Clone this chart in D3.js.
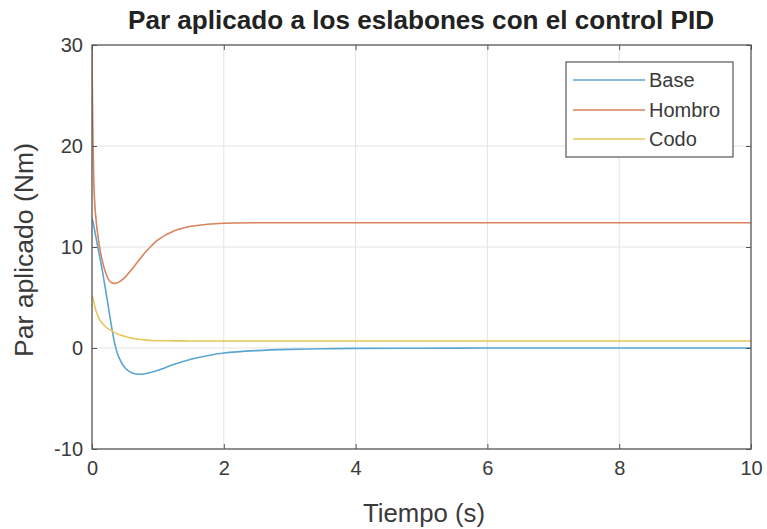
<!DOCTYPE html>
<html>
<head>
<meta charset="utf-8">
<script src="https://cdn.jsdelivr.net/npm/d3@7"></script>
<style>
  html, body { margin: 0; padding: 0; background: #fff; }
  svg { display: block; font-family: "Liberation Sans", Arial, sans-serif; }
</style>
</head>
<body>
<svg id="chart" width="767" height="529"></svg>
<script>
// ---- data ----
const time   = [0, 0.01, 0.03, 0.05, 0.1, 0.15, 0.2, 0.25, 0.3, 0.35, 0.4, 0.5, 0.6, 0.7, 0.8, 0.9, 1.0, 1.25, 1.5, 1.75, 2.0, 2.5, 3, 3.5, 4, 5, 6, 7, 8, 9, 10];
const base   = [12.8, 12.6, 12.0, 11.3, 9.6, 7.9, 6.0, 4.0, 2.0, 0.3, -0.8, -1.95, -2.45, -2.6, -2.55, -2.4, -2.2, -1.62, -1.12, -0.76, -0.5, -0.26, -0.14, -0.08, -0.04, -0.02, 0, 0, 0, 0, 0];
const hombro = [30.5, 23, 16, 13.5, 10.6, 8.8, 7.6, 6.8, 6.45, 6.4, 6.5, 7.0, 7.75, 8.6, 9.4, 10.1, 10.7, 11.6, 12.05, 12.25, 12.35, 12.4, 12.4, 12.4, 12.4, 12.4, 12.4, 12.4, 12.4, 12.4, 12.4];
const codo   = [5.2, 5.0, 4.5, 3.9, 3.0, 2.5, 2.15, 1.9, 1.7, 1.5, 1.35, 1.15, 0.98, 0.87, 0.8, 0.75, 0.72, 0.71, 0.7, 0.7, 0.7, 0.7, 0.7, 0.7, 0.7, 0.7, 0.7, 0.7, 0.7, 0.7, 0.7];
const seriesNames = ["Base", "Hombro", "Codo"];
const xTicks = [0, 2, 4, 6, 8, 10];
const yTicks = [-10, 0, 10, 20, 30];
const titleText = "Par aplicado a los eslabones con el control PID";
const xLabel = "Tiempo (s)";
const yLabel = "Par aplicado (Nm)";

const colors = ["#5aa6d2", "#d9825c", "#e9c65a"];
const seriesVals = [base, hombro, codo];

// ---- layout ----
const W = 767, H = 529;
const m = { left: 92, top: 45, right: 16, bottom: 80 };
const iw = W - m.left - m.right, ih = H - m.top - m.bottom;
const svg = d3.select("#chart");
const g = svg.append("g").attr("transform", `translate(${m.left},${m.top})`);

const x = d3.scaleLinear().domain([0, 10]).range([0, iw]);
const y = d3.scaleLinear().domain([-10, 30]).range([ih, 0]);

const textColor = "#3a3a3a";
const axisColor = "#555";
const fmt = d => String(d);

// grid
g.append("g").selectAll("line").data(xTicks.slice(1, -1)).join("line")
  .attr("x1", d => x(d)).attr("x2", d => x(d)).attr("y1", 0).attr("y2", ih)
  .attr("stroke", "#e3e3e3").attr("stroke-width", 1);
g.append("g").selectAll("line").data(yTicks.slice(1, -1)).join("line")
  .attr("y1", d => y(d)).attr("y2", d => y(d)).attr("x1", 0).attr("x2", iw)
  .attr("stroke", "#e3e3e3").attr("stroke-width", 1);

// clip
svg.append("defs").append("clipPath").attr("id", "clip")
  .append("rect").attr("width", iw).attr("height", ih);

// lines
const line = d3.line().x(d => x(d[0])).y(d => y(d[1])).curve(d3.curveCatmullRom.alpha(0.5));
const lines = g.append("g").attr("clip-path", "url(#clip)");
seriesVals.forEach((vals, i) => {
  lines.append("path")
    .datum(time.map((t, k) => [t, vals[k]]))
    .attr("d", line)
    .attr("fill", "none")
    .attr("stroke", colors[i])
    .attr("stroke-width", 1.6);
});

// axes
function styleAxis(sel, labels) {
  sel.select(".domain").remove();
  sel.selectAll(".tick line").attr("stroke", axisColor);
  sel.selectAll(".tick text").attr("fill", textColor).attr("font-size", 20);
  if (!labels) sel.selectAll(".tick text").remove();
}
g.append("g").attr("transform", `translate(0,${ih})`)
  .call(d3.axisBottom(x).tickValues(xTicks).tickFormat(fmt).tickSizeInner(-5).tickSizeOuter(0).tickPadding(12))
  .call(s => styleAxis(s, true));
g.append("g")
  .call(d3.axisTop(x).tickValues(xTicks).tickSizeInner(-5).tickSizeOuter(0))
  .call(s => styleAxis(s, false));
g.append("g")
  .call(d3.axisLeft(y).tickValues(yTicks).tickFormat(fmt).tickSizeInner(-5).tickSizeOuter(0).tickPadding(9))
  .call(s => styleAxis(s, true));
g.append("g").attr("transform", `translate(${iw},0)`)
  .call(d3.axisRight(y).tickValues(yTicks).tickSizeInner(-5).tickSizeOuter(0))
  .call(s => styleAxis(s, false));

// box
g.append("rect").attr("width", iw).attr("height", ih)
  .attr("fill", "none").attr("stroke", axisColor).attr("stroke-width", 1.3);

// title & labels
svg.append("text").attr("x", 421).attr("y", 29).attr("text-anchor", "middle")
  .attr("font-size", 25).attr("font-weight", "bold").attr("fill", "#222")
  .attr("textLength", 586).attr("lengthAdjust", "spacingAndGlyphs")
  .text(titleText);
svg.append("text").attr("x", 424).attr("y", 522).attr("text-anchor", "middle")
  .attr("font-size", 26).attr("fill", textColor)
  .attr("textLength", 122).attr("lengthAdjust", "spacingAndGlyphs")
  .text(xLabel);
svg.append("text").attr("transform", "translate(33,250) rotate(-90)").attr("text-anchor", "middle")
  .attr("font-size", 26).attr("fill", textColor)
  .attr("textLength", 214).attr("lengthAdjust", "spacingAndGlyphs")
  .text(yLabel);

// legend
const lg = svg.append("g");
lg.append("rect").attr("x", 566).attr("y", 62).attr("width", 167).attr("height", 95)
  .attr("fill", "#fff").attr("stroke", axisColor).attr("stroke-width", 1.2);
const rowY = [80, 110, 139];
seriesNames.forEach((name, i) => {
  lg.append("line").attr("x1", 573).attr("x2", 645).attr("y1", rowY[i]).attr("y2", rowY[i])
    .attr("stroke", colors[i]).attr("stroke-width", 1.6);
  lg.append("text").attr("x", 649).attr("y", rowY[i] + 7)
    .attr("font-size", 20).attr("fill", textColor).text(name);
});
</script>
</body>
</html>
